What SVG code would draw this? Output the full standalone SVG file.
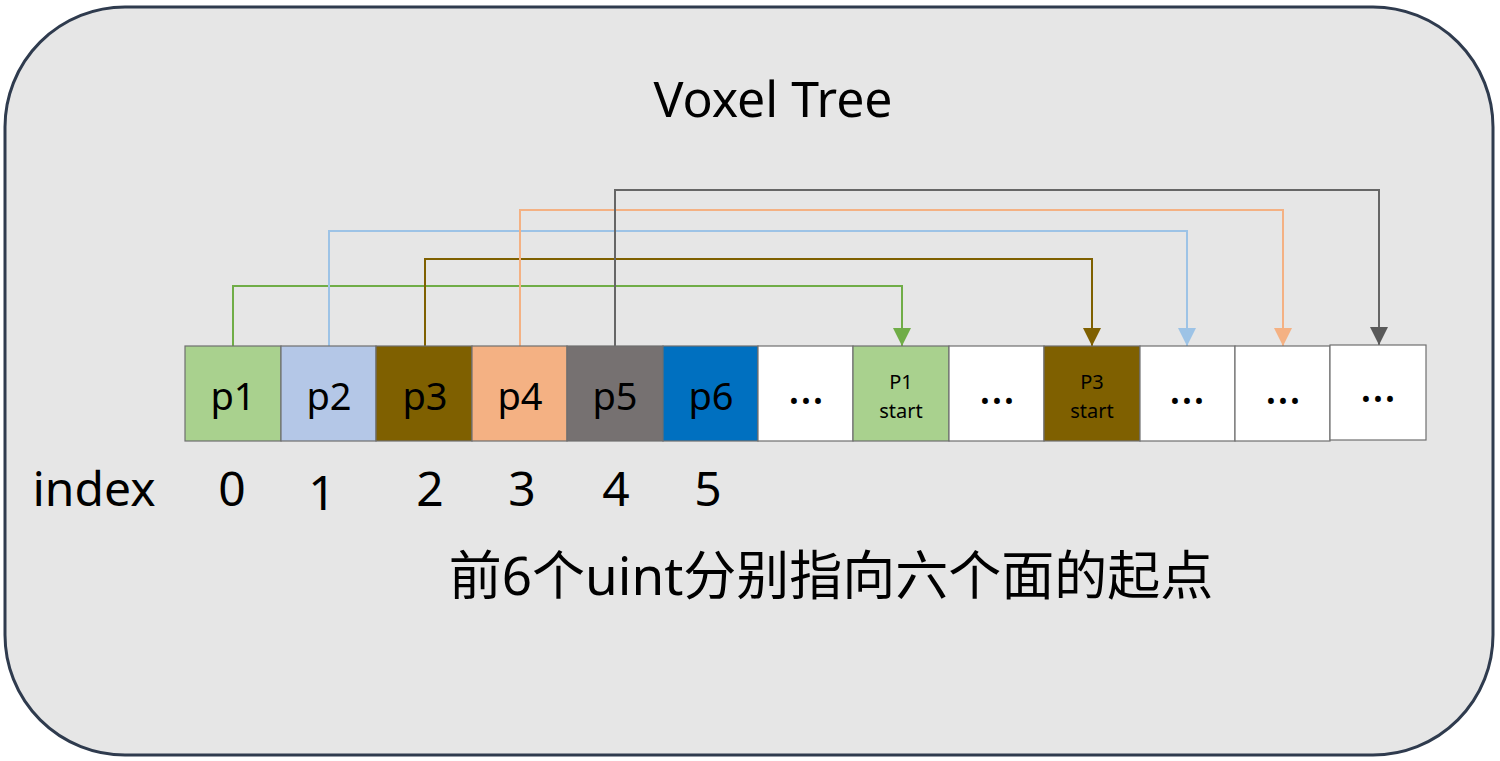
<svg xmlns="http://www.w3.org/2000/svg" width="1500" height="761" viewBox="0 0 1500 761">
<style>
text{font-family:"Noto Sans","Noto Sans CJK SC",sans-serif;fill:#000;text-anchor:middle}
.cell{stroke:#6f6f6f;stroke-width:1.2}
.big{font-size:38px}
.small{font-size:20px}
.dots{font-size:46px}
.conn{fill:none;stroke-width:2}
</style>
<defs>
<marker id="aG" viewBox="0 0 10 10" refX="5" refY="10" markerWidth="18" markerHeight="18" markerUnits="userSpaceOnUse"><path d="M0,0 L10,0 L5,10 Z" fill="#70AD47"/></marker>
<marker id="aB" viewBox="0 0 10 10" refX="5" refY="10" markerWidth="18" markerHeight="18" markerUnits="userSpaceOnUse"><path d="M0,0 L10,0 L5,10 Z" fill="#9DC3E6"/></marker>
<marker id="aBr" viewBox="0 0 10 10" refX="5" refY="10" markerWidth="18" markerHeight="18" markerUnits="userSpaceOnUse"><path d="M0,0 L10,0 L5,10 Z" fill="#7F6000"/></marker>
<marker id="aO" viewBox="0 0 10 10" refX="5" refY="10" markerWidth="18" markerHeight="18" markerUnits="userSpaceOnUse"><path d="M0,0 L10,0 L5,10 Z" fill="#F4B183"/></marker>
<marker id="aK" viewBox="0 0 10 10" refX="5" refY="10" markerWidth="18" markerHeight="18" markerUnits="userSpaceOnUse"><path d="M0,0 L10,0 L5,10 Z" fill="#595959"/></marker>
</defs>
<rect id="frame" x="5" y="7" width="1488" height="748" rx="120" ry="120" fill="#E6E6E6" stroke="#2F3B4E" stroke-width="3"/>
<text x="773" y="117" style="font-size:50px">Voxel Tree</text>

<g id="connectors">
<polyline class="conn" stroke="#70AD47" points="233,346 233,286 902,286 902,346" marker-end="url(#aG)"/>
<polyline class="conn" stroke="#7F6000" points="425,346 425,259 1092,259 1092,346" marker-end="url(#aBr)"/>
<polyline class="conn" stroke="#9DC3E6" points="329,346 329,231 1187,231 1187,346" marker-end="url(#aB)"/>
<polyline class="conn" stroke="#F4B183" points="520,346 520,210 1283,210 1283,346" marker-end="url(#aO)"/>
<polyline class="conn" stroke="#666666" points="615,346 615,190 1379,190 1379,345" marker-end="url(#aK)"/>
</g>

<g id="p1"><rect class="cell" x="185" y="346" width="96" height="95" fill="#A9D18E"/><text class="big" x="233" y="410">p1</text></g>
<g id="p2"><rect class="cell" x="281" y="346" width="95" height="95" fill="#B4C7E7"/><text class="big" x="329" y="410">p2</text></g>
<g id="p3"><rect class="cell" x="376" y="346" width="96" height="95" fill="#7F6000"/><text class="big" x="425" y="410">p3</text></g>
<g id="p4"><rect class="cell" x="472" y="346" width="95" height="95" fill="#F4B183"/><text class="big" x="520" y="410">p4</text></g>
<g id="p5"><rect class="cell" x="567" y="346" width="96" height="95" fill="#767171"/><text class="big" x="615" y="410">p5</text></g>
<g id="p6"><rect class="cell" x="663" y="346" width="95" height="95" fill="#0070C0"/><text class="big" x="711" y="410">p6</text></g>
<g id="c7"><rect class="cell" x="758" y="346" width="95" height="95" fill="#FFFFFF"/><text class="dots" x="806" y="404">…</text></g>
<g id="p1start"><rect class="cell" x="853" y="346" width="96" height="95" fill="#A9D18E"/><text class="small" x="901" y="389">P1</text><text class="small" x="901" y="418">start</text></g>
<g id="c9"><rect class="cell" x="949" y="346" width="95" height="95" fill="#FFFFFF"/><text class="dots" x="997" y="404">…</text></g>
<g id="p3start"><rect class="cell" x="1044" y="346" width="96" height="95" fill="#7F6000"/><text class="small" x="1092" y="389">P3</text><text class="small" x="1092" y="418">start</text></g>
<g id="c11"><rect class="cell" x="1140" y="346" width="95" height="95" fill="#FFFFFF"/><text class="dots" x="1187" y="404">…</text></g>
<g id="c12"><rect class="cell" x="1235" y="346" width="95" height="95" fill="#FFFFFF"/><text class="dots" x="1283" y="404">…</text></g>
<g id="c13"><rect class="cell" x="1330" y="345" width="96" height="95" fill="#FFFFFF"/><text class="dots" x="1378" y="402">…</text></g>

<g id="index" style="font-size:48px">
<text x="94" y="506">index</text>
<text x="232" y="506">0</text>
<text x="322" y="510">1</text>
<text x="430" y="506">2</text>
<text x="522" y="506">3</text>
<text x="616" y="506">4</text>
<text x="708" y="506">5</text>
</g>
<text x="831" y="595" style="font-size:53px">前6个uint分别指向六个面的起点</text>
</svg>
